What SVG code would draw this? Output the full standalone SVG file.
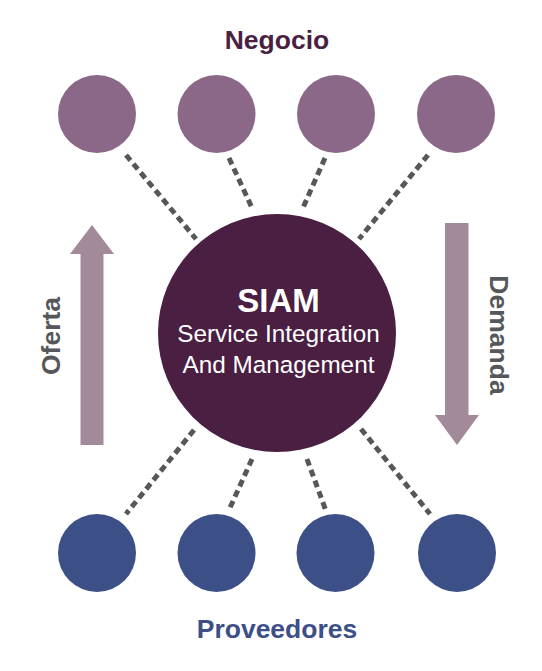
<svg xmlns="http://www.w3.org/2000/svg" width="542" height="671" viewBox="0 0 542 671">
<style>
.top{fill:#8b6788}
.bot{fill:#3d4f87}
.conn{stroke:#545957;stroke-width:5;stroke-dasharray:7 4.5;fill:none}
.arrow{fill:#a28a9b}
.side{font-family:"Liberation Sans",Arial,sans-serif;font-weight:bold;font-size:26.5px;fill:#55575a;text-anchor:middle}
.title{font-family:"Liberation Sans",Arial,sans-serif;font-weight:bold;font-size:26.5px;text-anchor:middle}
.ctext{font-family:"Liberation Sans",Arial,sans-serif;fill:#ffffff;text-anchor:middle}
</style>
<rect width="542" height="671" fill="#ffffff"/>
<g id="connectors">
<line class="conn" x1="126" y1="155" x2="196" y2="239"/>
<line class="conn" x1="229" y1="158" x2="253" y2="210"/>
<line class="conn" x1="325" y1="158" x2="302" y2="210"/>
<line class="conn" x1="428" y1="155" x2="359" y2="239"/>
<line class="conn" x1="194" y1="430" x2="126" y2="514"/>
<line class="conn" x1="252" y1="459" x2="229" y2="510"/>
<line class="conn" x1="307" y1="459" x2="326" y2="511"/>
<line class="conn" x1="361" y1="429" x2="430" y2="514"/>
</g>
<g id="title-negocio"><text class="title" x="277" y="49" fill="#4a1f42">Negocio</text></g>
<g id="n1"><circle class="top" cx="97" cy="114" r="39"/></g>
<g id="n2"><circle class="top" cx="216.5" cy="114" r="39"/></g>
<g id="n3"><circle class="top" cx="336" cy="114" r="39"/></g>
<g id="n4"><circle class="top" cx="456" cy="114" r="39"/></g>
<g id="siam">
<circle cx="277" cy="333" r="119" fill="#4a1f42"/>
<text class="ctext" x="278.5" y="312" font-size="33" font-weight="bold">SIAM</text>
<text class="ctext" x="278.5" y="342" font-size="24.3">Service Integration</text>
<text class="ctext" x="278.5" y="373" font-size="24.3">And Management</text>
</g>
<g id="oferta">
<polygon class="arrow" points="92,225 114,254 103.5,254 103.5,445 80.5,445 80.5,254 70,254"/>
<text class="side" transform="translate(60,336) rotate(-90)">Oferta</text>
</g>
<g id="demanda">
<polygon class="arrow" points="445,223 468.5,223 468.5,415 479,415 457,445 435,415 445,415"/>
<text class="side" transform="translate(490,335) rotate(90)">Demanda</text>
</g>
<g id="p1"><circle class="bot" cx="97" cy="553" r="39"/></g>
<g id="p2"><circle class="bot" cx="216.5" cy="553" r="39"/></g>
<g id="p3"><circle class="bot" cx="335.5" cy="553" r="39"/></g>
<g id="p4"><circle class="bot" cx="457" cy="553" r="39"/></g>
<g id="title-proveedores"><text class="title" x="277" y="638" fill="#3d4f87">Proveedores</text></g>
</svg>
